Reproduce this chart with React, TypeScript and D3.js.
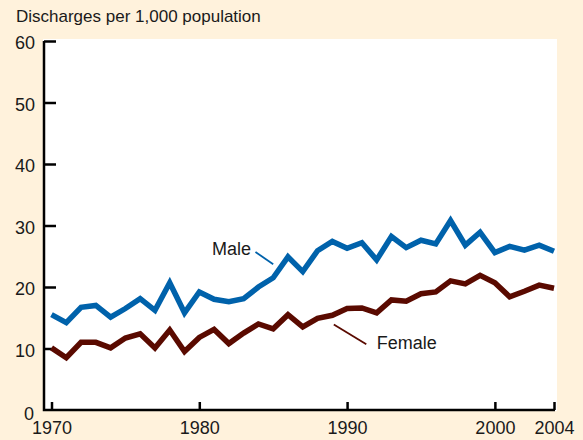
import React from 'react';
import * as d3 from 'd3';

const years = [
  1970, 1971, 1972, 1973, 1974, 1975, 1976, 1977, 1978, 1979,
  1980, 1981, 1982, 1983, 1984, 1985, 1986, 1987, 1988, 1989,
  1990, 1991, 1992, 1993, 1994, 1995, 1996, 1997, 1998, 1999,
  2000, 2001, 2002, 2003, 2004,
];

const male = [
  15.5, 14.2, 16.7, 17.0, 15.1, 16.5, 18.1, 16.2, 20.7, 15.8,
  19.2, 18.0, 17.6, 18.1, 20.0, 21.5, 24.9, 22.5, 25.9, 27.4,
  26.3, 27.2, 24.4, 28.2, 26.4, 27.6, 27.0, 30.8, 26.8, 28.9,
  25.6, 26.6, 26.0, 26.8, 25.8,
];

const female = [
  10.1, 8.5, 11.0, 11.0, 10.1, 11.7, 12.4, 10.1, 13.0, 9.5,
  11.8, 13.1, 10.8, 12.5, 14.0, 13.2, 15.5, 13.5, 14.9, 15.4,
  16.5, 16.6, 15.8, 17.9, 17.7, 18.9, 19.2, 21.0, 20.5, 21.9,
  20.7, 18.4, 19.3, 20.3, 19.8,
];

const yTicks = [0, 10, 20, 30, 40, 50, 60];
const xTicks = [1970, 1980, 1990, 2000, 2004];

// label + leader line, placed in data units
const labels = [
  { name: 'Male', color: '#0062ab', at: [1980.86, 25.2], leader: [[1983.8, 25.7], [1985.0, 23.7]] },
  { name: 'Female', color: '#5a0a00', at: [1992.0, 9.87], leader: [[1989.1, 13.9], [1991.3, 10.7]] },
];

const W = 583;
const H = 440;
const FONT = '"Liberation Sans", Arial, sans-serif';

const App = () => {
  const svgRef = React.useRef<SVGSVGElement>(null);

  React.useEffect(() => {
    const svg = d3.select(svgRef.current);
    svg.selectAll('*').remove();

    svg.append('rect').attr('width', W).attr('height', H).attr('fill', '#fff2dc');

    const x = d3.scaleLinear().domain([1970, 2004]).range([51.5, 554]);
    const y = d3.scaleLinear().domain([0, 60]).range([410, 41]);

    // white plot panel
    svg.append('rect')
      .attr('x', 43).attr('y', 39)
      .attr('width', 557 - 43).attr('height', 411 - 39)
      .attr('fill', '#ffffff');

    svg.append('text')
      .attr('x', 16).attr('y', 22)
      .style('font-family', FONT).style('font-size', '17px')
      .attr('fill', '#1a1a1a')
      .text('Discharges per 1,000 population');

    // Y axis
    const yAxis = svg.append('g')
      .attr('transform', 'translate(44,0)')
      .call(d3.axisLeft(y).tickValues(yTicks).tickSize(-12).tickPadding(9).tickFormat(d3.format('d')));
    yAxis.select('.domain').remove();
    yAxis.selectAll('.tick line').attr('stroke', '#000').attr('stroke-width', 2.5)
      .filter((d: any) => d === 0).remove();
    yAxis.selectAll('.tick text')
      .style('font-family', FONT).style('font-size', '18px').attr('fill', '#1a1a1a')
      .attr('dy', (d: any) => (d === 0 ? '0.5em' : '0.42em'))
      .attr('x', (d: any) => (d === 0 ? -10 : -9));

    // X axis
    const xAxis = svg.append('g')
      .attr('transform', 'translate(0,410)')
      .call(d3.axisBottom(x).tickValues(xTicks).tickSize(-8).tickPadding(11).tickFormat(d3.format('d')));
    xAxis.select('.domain').remove();
    xAxis.selectAll('.tick line').attr('stroke', '#000').attr('stroke-width', 2.5);
    xAxis.selectAll('.tick text')
      .style('font-family', FONT).style('font-size', '18px').attr('fill', '#1a1a1a');

    // axis lines
    svg.append('path')
      .attr('d', `M44,${y(60)}V410H${x(2004) + 1}`)
      .attr('fill', 'none').attr('stroke', '#000').attr('stroke-width', 2.5);

    const line = d3.line<number>()
      .x((_, i) => x(years[i]))
      .y((d) => y(d));

    [[male, '#0062ab'], [female, '#5a0a00']].forEach(([vals, color]) => {
      svg.append('path')
        .datum(vals as number[])
        .attr('d', line)
        .attr('fill', 'none')
        .attr('stroke', color as string)
        .attr('stroke-width', 5.5)
        .attr('stroke-linejoin', 'miter');
    });

    labels.forEach((l) => {
      svg.append('line')
        .attr('x1', x(l.leader[0][0])).attr('y1', y(l.leader[0][1]))
        .attr('x2', x(l.leader[1][0])).attr('y2', y(l.leader[1][1]))
        .attr('stroke', l.color).attr('stroke-width', 1.8);
      svg.append('text')
        .attr('x', x(l.at[0])).attr('y', y(l.at[1]))
        .style('font-family', FONT).style('font-size', '18px')
        .attr('fill', '#1a1a1a')
        .text(l.name);
    });
  }, []);

  return (
    <svg ref={svgRef} width={W} height={H}
      style={{ position: 'absolute', left: 0, top: 0, display: 'block' }} />
  );
};

export default App;
